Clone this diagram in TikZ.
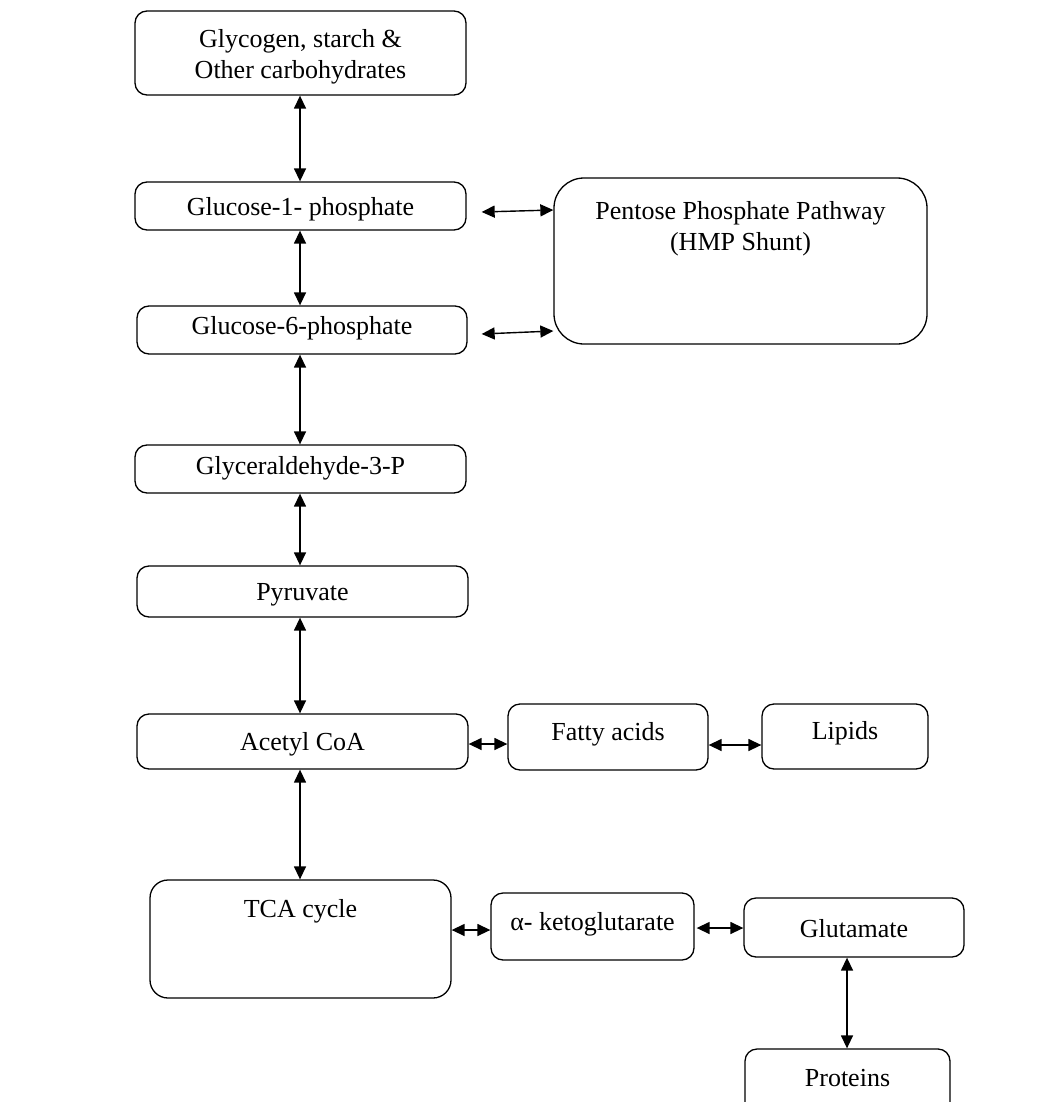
\documentclass[tikz,border=0pt]{standalone}
\usepackage{fontspec}
\setmainfont{Liberation Serif}
\usetikzlibrary{arrows.meta}
\begin{document}
\begin{tikzpicture}[x=1pt,y=-1pt,
  box/.style={draw, line width=1.3pt, rounded corners=12pt, inner sep=0pt, font=\fontsize{26}{30}\selectfont, align=center},
  lbl/.style={font=\fontsize{26}{30}\selectfont, align=center, anchor=center},
  conn/.style={line width=1.4pt, {Triangle[length=13pt,width=12pt]}-{Triangle[length=13pt,width=12pt]}}]
\useasboundingbox (0,0) rectangle (1051,1102);
\node[box, minimum width=331pt, minimum height=84pt] (glyc) at (300.5,53) {};
\node[lbl] at ([yshift=-4pt]glyc.center) {Glycogen, starch \&\\[1pt]Other carbohydrates};
\node[box, minimum width=331pt, minimum height=48pt] (g1p) at (300.5,206) {};
\node[lbl] at ([yshift=-3pt]g1p.center) {Glucose-1- phosphate};
\node[box, minimum width=330pt, minimum height=48pt] (g6p) at (302,330) {};
\node[lbl] at ([yshift=2pt]g6p.center) {Glucose-6-phosphate};
\node[box, minimum width=331pt, minimum height=48pt] (gly) at (300.5,469) {};
\node[lbl] at ([yshift=1pt]gly.center) {Glyceraldehyde-3-P};
\node[box, minimum width=331pt, minimum height=51pt] (pyr) at (302.5,591.5) {};
\node[lbl] at ([yshift=-3pt]pyr.center) {Pyruvate};
\node[box, minimum width=331pt, minimum height=55pt] (acoa) at (302.5,741.5) {};
\node[lbl] at ([yshift=-3pt]acoa.center) {Acetyl CoA};
\node[box, minimum width=200pt, minimum height=66pt] (fat) at (608,737) {};
\node[lbl] at ([yshift=3pt]fat.center) {Fatty acids};
\node[box, minimum width=166pt, minimum height=65pt] (lip) at (845,736.5) {};
\node[lbl] at ([yshift=3pt]lip.center) {Lipids};
\node[box, rounded corners=18pt, minimum width=301pt, minimum height=118pt] (tca) at (300.5,939) {};
\node[lbl] at ([yshift=-32pt]tca.north) {TCA cycle};
\node[box, minimum width=203pt, minimum height=67pt] (akg) at (592.5,926.5) {};
\node[lbl] at ([yshift=2pt]akg.center) {α- ketoglutarate};
\node[box, minimum width=220pt, minimum height=59pt] (glu) at (854,927.5) {};
\node[lbl] at ([yshift=-1pt]glu.center) {Glutamate};
\node[box, minimum width=205pt, minimum height=90pt] (pro) at (847.5,1094) {};
\node[lbl] at ([yshift=-30pt]pro.north) {Proteins};
\node[box, rounded corners=30pt, minimum width=373pt, minimum height=166pt] (ppp) at (740.5,261) {};
\node[lbl] at ([yshift=32pt]ppp.center) {Pentose Phosphate Pathway\\[1pt](HMP Shunt)};
% vertical connectors
\draw[conn] (glyc.south -| 300,0) -- (g1p.north -| 300,0);
\draw[conn] (g1p.south -| 300,0) -- (g6p.north -| 300,0);
\draw[conn] (g6p.south -| 300,0) -- (gly.north -| 300,0);
\draw[conn] (gly.south -| 300,0) -- (pyr.north -| 300,0);
\draw[conn] (pyr.south -| 300,0) -- (acoa.north -| 300,0);
\draw[conn] (acoa.south -| 300,0) -- (tca.north -| 300,0);
\draw[conn] (glu.south -| 847,0) -- (pro.north -| 847,0);
% horizontal connectors
\draw[conn] ([xshift=15pt,yshift=-6pt]g1p.east) -- ([yshift=-4pt]g1p.east -| ppp.west);
\draw[conn] ([xshift=14pt,yshift=-4pt]g6p.east) -- ([yshift=-1pt]g6p.east -| ppp.west);
\draw[conn] ([yshift=-2.5pt]acoa.east) -- ([yshift=-2.5pt]acoa.east -| fat.west);
\draw[conn] ([yshift=-8pt]fat.east) -- ([yshift=-8pt]fat.east -| lip.west);
\draw[conn] ([yshift=9pt]tca.east) -- ([yshift=9pt]tca.east -| akg.west);
\draw[conn] ([xshift=2pt,yshift=-1.5pt]akg.east) -- ([yshift=-1.5pt]akg.east -| glu.west);
\end{tikzpicture}
\end{document}
